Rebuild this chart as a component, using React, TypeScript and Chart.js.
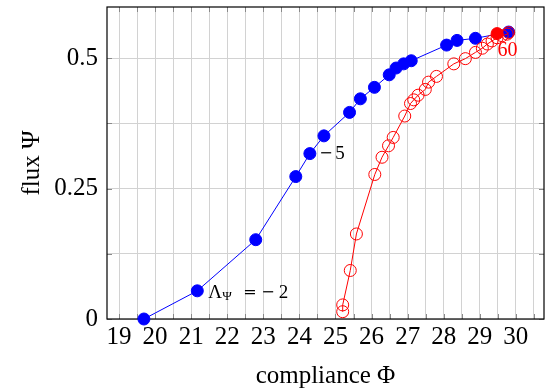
import React, { useEffect, useRef } from 'react';
import { Chart, registerables } from 'chart.js';

Chart.register(...registerables);

// ---- data ----
const blueX = [19.69, 21.17, 22.79, 23.90, 24.29, 24.68, 25.39, 25.69, 26.08, 26.49, 26.68, 26.89, 27.10, 28.08, 28.37, 28.88, 29.80];
const blueY = [0.0, 0.054, 0.152, 0.273, 0.317, 0.351, 0.396, 0.422, 0.444, 0.468, 0.481, 0.489, 0.495, 0.525, 0.534, 0.538, 0.550];

const redX = [25.20, 25.20, 25.41, 25.58, 26.09, 26.29, 26.47, 26.60, 26.92, 27.08, 27.17, 27.29, 27.49, 27.58, 27.80, 28.28, 28.60, 28.88, 29.07, 29.21, 29.34, 29.48, 29.62, 29.76, 29.80];
const redY = [0.014, 0.027, 0.093, 0.163, 0.277, 0.310, 0.332, 0.348, 0.389, 0.413, 0.420, 0.429, 0.440, 0.454, 0.465, 0.489, 0.499, 0.511, 0.519, 0.527, 0.533, 0.539, 0.543, 0.546, 0.549];

const markX = [29.48];
const markY = [0.547];

const xGridValues = [19, 19.5, 20, 20.5, 21, 21.5, 22, 22.5, 23, 23.5, 24, 24.5, 25, 25.5, 26, 26.5, 27, 27.5, 28, 28.5, 29, 29.5, 30, 30.5];
const xTickLabels = ['19', '20', '21', '22', '23', '24', '25', '26', '27', '28', '29', '30'];
const yGridValues = [0, 0.125, 0.25, 0.375, 0.5];
const yTickValues = [0, 0.25, 0.5];
const yTickLabels = ['0', '0.25', '0.5'];

const xMin = 18.667;
const xMax = 30.78;
const yMin = 0;
const yMax = 0.598;

const FONT = '"Liberation Serif", "Times New Roman", serif';
const MATH = '"DejaVu Serif", serif';

const framePlugin = {
  id: 'frame',
  beforeDatasetsDraw(chart: any) {
    const { ctx, chartArea, scales } = chart;
    const { left, right, top, bottom } = chartArea;
    ctx.save();
    ctx.strokeStyle = '#8a8a8a';
    ctx.lineWidth = 1;
    const L = 5;
    ctx.beginPath();
    for (const v of xGridValues) {
      const x = Math.round(scales.x.getPixelForValue(v)) + 0.5;
      ctx.moveTo(x, bottom);
      ctx.lineTo(x, bottom - L);
      ctx.moveTo(x, top);
      ctx.lineTo(x, top + L);
    }
    for (const v of yGridValues) {
      const y = Math.round(scales.y.getPixelForValue(v)) + 0.5;
      ctx.moveTo(left, y);
      ctx.lineTo(left + L, y);
      ctx.moveTo(right, y);
      ctx.lineTo(right - L, y);
    }
    ctx.stroke();
    ctx.strokeStyle = '#000';
    ctx.lineWidth = 1.2;
    ctx.strokeRect(left, top, right - left, bottom - top);
    ctx.restore();
  },
};

const labelPlugin = {
  id: 'labels',
  afterDatasetsDraw(chart: any) {
    const { ctx } = chart;
    const blue = chart.getDatasetMeta(2).data;
    const mark = chart.getDatasetMeta(0).data;
    ctx.save();
    ctx.fillStyle = '#000';
    ctx.textBaseline = 'alphabetic';
    ctx.textAlign = 'left';

    // Λ_Ψ = −2 next to the second blue point
    const p1 = blue[1];
    ctx.font = `19px ${FONT}`;
    ctx.fillText('Λ', p1.x + 11, p1.y + 6.7);
    ctx.font = `13px ${FONT}`;
    ctx.fillText('Ψ', p1.x + 25, p1.y + 9.5);
    ctx.font = `16px ${MATH}`;
    ctx.fillText('=', p1.x + 46, p1.y + 6.2);
    ctx.fillText('−', p1.x + 64, p1.y + 6.2);
    ctx.font = `19px ${FONT}`;
    ctx.fillText('2', p1.x + 81.5, p1.y + 6.7);

    // −5 next to the fifth blue point
    const p4 = blue[4];
    ctx.font = `16px ${MATH}`;
    ctx.fillText('−', p4.x + 9.5, p4.y + 4.5);
    ctx.font = `19px ${FONT}`;
    ctx.fillText('5', p4.x + 25.5, p4.y + 5);

    // 60 below the highlighted red point
    const pm = mark[0];
    ctx.fillStyle = '#ff0000';
    ctx.font = `20px ${FONT}`;
    ctx.fillText('60', pm.x + 0.5, pm.y + 22.5);
    ctx.restore();
  },
};

export default function App() {
  const ref = useRef<HTMLCanvasElement>(null);

  useEffect(() => {
    if (!ref.current) return;
    const chart = new Chart(ref.current, {
      type: 'scatter',
      data: {
        datasets: [
          {
            label: 'mark',
            data: markX.map((x, i) => ({ x, y: markY[i] })),
            showLine: false,
            pointRadius: 6,
            pointBackgroundColor: '#ff0000',
            pointBorderColor: '#ff0000',
            pointBorderWidth: 1,
            clip: false,
          },
          {
            label: 'red',
            data: redX.map((x, i) => ({ x, y: redY[i] })),
            showLine: true,
            borderColor: '#ff0000',
            borderWidth: 1,
            pointRadius: 6,
            pointBackgroundColor: 'rgba(0,0,0,0)',
            pointBorderColor: '#ff0000',
            pointBorderWidth: 1,
            tension: 0,
            clip: false,
          },
          {
            label: 'blue',
            data: blueX.map((x, i) => ({ x, y: blueY[i] })),
            showLine: true,
            borderColor: '#0000ff',
            borderWidth: 1,
            pointRadius: 6,
            pointBackgroundColor: '#0000ff',
            pointBorderColor: '#0000ff',
            pointBorderWidth: 1,
            tension: 0,
            clip: false,
          },
        ],
      },
      options: {
        responsive: false,
        animation: false,
        layout: { padding: { top: 4, right: 9, left: 0, bottom: 0 } },
        plugins: {
          legend: { display: false },
          tooltip: { enabled: false },
        },
        scales: {
          x: {
            type: 'linear',
            min: xMin,
            max: xMax,
            afterFit: (s: any) => { s.height = 72; s.paddingLeft = 0; s.paddingRight = 0; },
            afterBuildTicks: (s: any) => { s.ticks = xGridValues.map((v) => ({ value: v })); },
            grid: { color: '#d2d2d2', lineWidth: 1, drawTicks: false },
            border: { display: false },
            ticks: {
              autoSkip: false,
              maxRotation: 0,
              padding: 3.5,
              color: '#000',
              font: { family: FONT, size: 25 },
              callback: (v: any) => {
                const idx = xTickLabels.indexOf(String(v));
                return idx >= 0 ? xTickLabels[idx] : '';
              },
            },
            title: {
              display: true,
              text: 'compliance Φ',
              color: '#000',
              font: { family: FONT, size: 25 },
              padding: { top: 0, bottom: 0 },
            },
          },
          y: {
            type: 'linear',
            min: yMin,
            max: yMax,
            afterFit: (s: any) => { s.width = 107; s.paddingTop = 0; s.paddingBottom = 0; },
            afterBuildTicks: (s: any) => { s.ticks = yGridValues.map((v) => ({ value: v })); },
            grid: { color: '#d2d2d2', lineWidth: 1, drawTicks: false },
            border: { display: false },
            ticks: {
              autoSkip: false,
              padding: 9,
              color: '#000',
              font: { family: FONT, size: 25 },
              callback: (v: any) => {
                const idx = yTickValues.indexOf(Number(v));
                return idx >= 0 ? yTickLabels[idx] : '';
              },
            },
            title: {
              display: true,
              text: 'flux Ψ',
              color: '#000',
              font: { family: FONT, size: 25 },
              padding: { top: 17, bottom: 0 },
            },
          },
        },
      },
      plugins: [framePlugin, labelPlugin],
    });
    return () => chart.destroy();
  }, []);

  return (
    <div style={{ position: 'fixed', left: 0, top: 0, width: 553, height: 391, background: '#fff' }}>
      <canvas ref={ref} width={553} height={391} />
    </div>
  );
}
